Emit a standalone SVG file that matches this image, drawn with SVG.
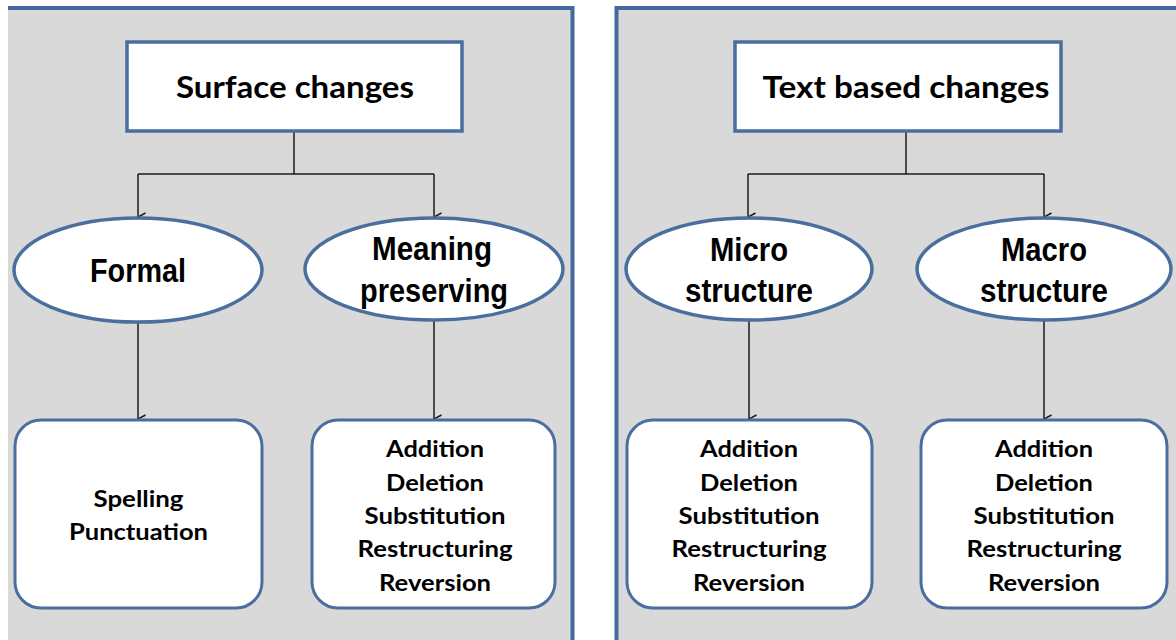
<svg xmlns="http://www.w3.org/2000/svg" width="1176" height="640" viewBox="0 0 1176 640">
<defs>
<marker id="arr" markerWidth="10" markerHeight="10" refX="5" refY="9" orient="auto-start-reverse" markerUnits="userSpaceOnUse" viewBox="0 0 10 10">
<path d="M1,1.5 L5,9 L9,1.5" fill="none" stroke="#1a1a1a" stroke-width="1.5"/>
</marker>
<style>
.pfill{fill:#d9d9d9}
.pline{fill:none;stroke:#44699c;stroke-width:4}
.box{fill:#fff;stroke:#4a6e9e;stroke-width:3.5}
.ell{fill:#fff;stroke:#4a6e9e;stroke-width:3.5}
.rbox{fill:#fff;stroke:#4a6e9e;stroke-width:3}
.conn{fill:none;stroke:#1a1a1a;stroke-width:1.5}
.title{font-family:Lato,"Open Sans",sans-serif;font-weight:bold;font-size:31px;fill:#000;text-anchor:middle}
.etext{font-family:"Liberation Sans",Arial,sans-serif;font-weight:bold;font-size:33px;fill:#000;text-anchor:middle}
.btext{font-family:Lato,"Open Sans",sans-serif;font-weight:bold;font-size:22px;fill:#000;text-anchor:middle}
</style>
</defs>
<rect x="0" y="0" width="1176" height="640" fill="#fff"/>
<rect class="pfill" x="8" y="8" width="565" height="632"/>
<path class="pline" d="M8,8 H572.5 V640"/>
<rect class="pfill" x="616.5" y="8" width="560" height="632"/>
<path class="pline" d="M616.5,640 V8 H1176"/>

<g id="connectors">
<path class="conn" d="M294,131 V174"/>
<path class="conn" d="M138,174 H434"/>
<path class="conn" d="M138,174 V217" marker-end="url(#arr)"/>
<path class="conn" d="M434,174 V217" marker-end="url(#arr)"/>
<path class="conn" d="M138,322 V419" marker-end="url(#arr)"/>
<path class="conn" d="M434,320 V419" marker-end="url(#arr)"/>
<path class="conn" d="M906,131 V174"/>
<path class="conn" d="M748,174 H1044"/>
<path class="conn" d="M748,174 V217" marker-end="url(#arr)"/>
<path class="conn" d="M1044,174 V217" marker-end="url(#arr)"/>
<path class="conn" d="M749,320 V419" marker-end="url(#arr)"/>
<path class="conn" d="M1044,320 V419" marker-end="url(#arr)"/>
</g>

<g id="surface-changes">
<rect class="box" x="127" y="42" width="335" height="89"/>
<text class="title" x="295" y="98" textLength="238" lengthAdjust="spacingAndGlyphs">Surface changes</text>
</g>
<g id="formal">
<ellipse class="ell" cx="138" cy="270" rx="124" ry="52"/>
<text class="etext" x="138" y="282" textLength="96" lengthAdjust="spacingAndGlyphs">Formal</text>
</g>
<g id="meaning-preserving">
<ellipse class="ell" cx="434" cy="269" rx="129" ry="51"/>
<text class="etext" x="432" y="260" textLength="120" lengthAdjust="spacingAndGlyphs">Meaning</text>
<text class="etext" x="434" y="302" textLength="148" lengthAdjust="spacingAndGlyphs">preserving</text>
</g>
<g id="formal-items">
<rect class="rbox" x="15" y="420" width="247" height="188" rx="26"/>
<text class="btext" x="138.5" y="507" textLength="90" lengthAdjust="spacingAndGlyphs">Spelling</text>
<text class="btext" x="138.5" y="540" textLength="139" lengthAdjust="spacingAndGlyphs">Punctuation</text>
</g>
<g id="meaning-items">
<rect class="rbox" x="312" y="420" width="243" height="188" rx="26"/>
<text class="btext" x="435" y="457" textLength="98" lengthAdjust="spacingAndGlyphs">Addition</text>
<text class="btext" x="435" y="490.5" textLength="98" lengthAdjust="spacingAndGlyphs">Deletion</text>
<text class="btext" x="435" y="524" textLength="141" lengthAdjust="spacingAndGlyphs">Substitution</text>
<text class="btext" x="435" y="557" textLength="155" lengthAdjust="spacingAndGlyphs">Restructuring</text>
<text class="btext" x="435" y="590.5" textLength="112" lengthAdjust="spacingAndGlyphs">Reversion</text>
</g>

<g id="text-based-changes">
<rect class="box" x="735" y="42" width="326" height="89"/>
<text class="title" x="906" y="98" textLength="287" lengthAdjust="spacingAndGlyphs">Text based changes</text>
</g>
<g id="micro-structure">
<ellipse class="ell" cx="749" cy="269" rx="123" ry="51"/>
<text class="etext" x="749" y="261" textLength="78" lengthAdjust="spacingAndGlyphs">Micro</text>
<text class="etext" x="749" y="302" textLength="128" lengthAdjust="spacingAndGlyphs">structure</text>
</g>
<g id="macro-structure">
<ellipse class="ell" cx="1044" cy="269" rx="127" ry="51"/>
<text class="etext" x="1044" y="261" textLength="86" lengthAdjust="spacingAndGlyphs">Macro</text>
<text class="etext" x="1044" y="302" textLength="128" lengthAdjust="spacingAndGlyphs">structure</text>
</g>
<g id="micro-items">
<rect class="rbox" x="627" y="420" width="245" height="188" rx="26"/>
<text class="btext" x="749" y="457" textLength="98" lengthAdjust="spacingAndGlyphs">Addition</text>
<text class="btext" x="749" y="490.5" textLength="98" lengthAdjust="spacingAndGlyphs">Deletion</text>
<text class="btext" x="749" y="524" textLength="141" lengthAdjust="spacingAndGlyphs">Substitution</text>
<text class="btext" x="749" y="557" textLength="155" lengthAdjust="spacingAndGlyphs">Restructuring</text>
<text class="btext" x="749" y="590.5" textLength="112" lengthAdjust="spacingAndGlyphs">Reversion</text>
</g>
<g id="macro-items">
<rect class="rbox" x="921" y="420" width="246" height="188" rx="26"/>
<text class="btext" x="1044" y="457" textLength="98" lengthAdjust="spacingAndGlyphs">Addition</text>
<text class="btext" x="1044" y="490.5" textLength="98" lengthAdjust="spacingAndGlyphs">Deletion</text>
<text class="btext" x="1044" y="524" textLength="141" lengthAdjust="spacingAndGlyphs">Substitution</text>
<text class="btext" x="1044" y="557" textLength="155" lengthAdjust="spacingAndGlyphs">Restructuring</text>
<text class="btext" x="1044" y="590.5" textLength="112" lengthAdjust="spacingAndGlyphs">Reversion</text>
</g>
</svg>
